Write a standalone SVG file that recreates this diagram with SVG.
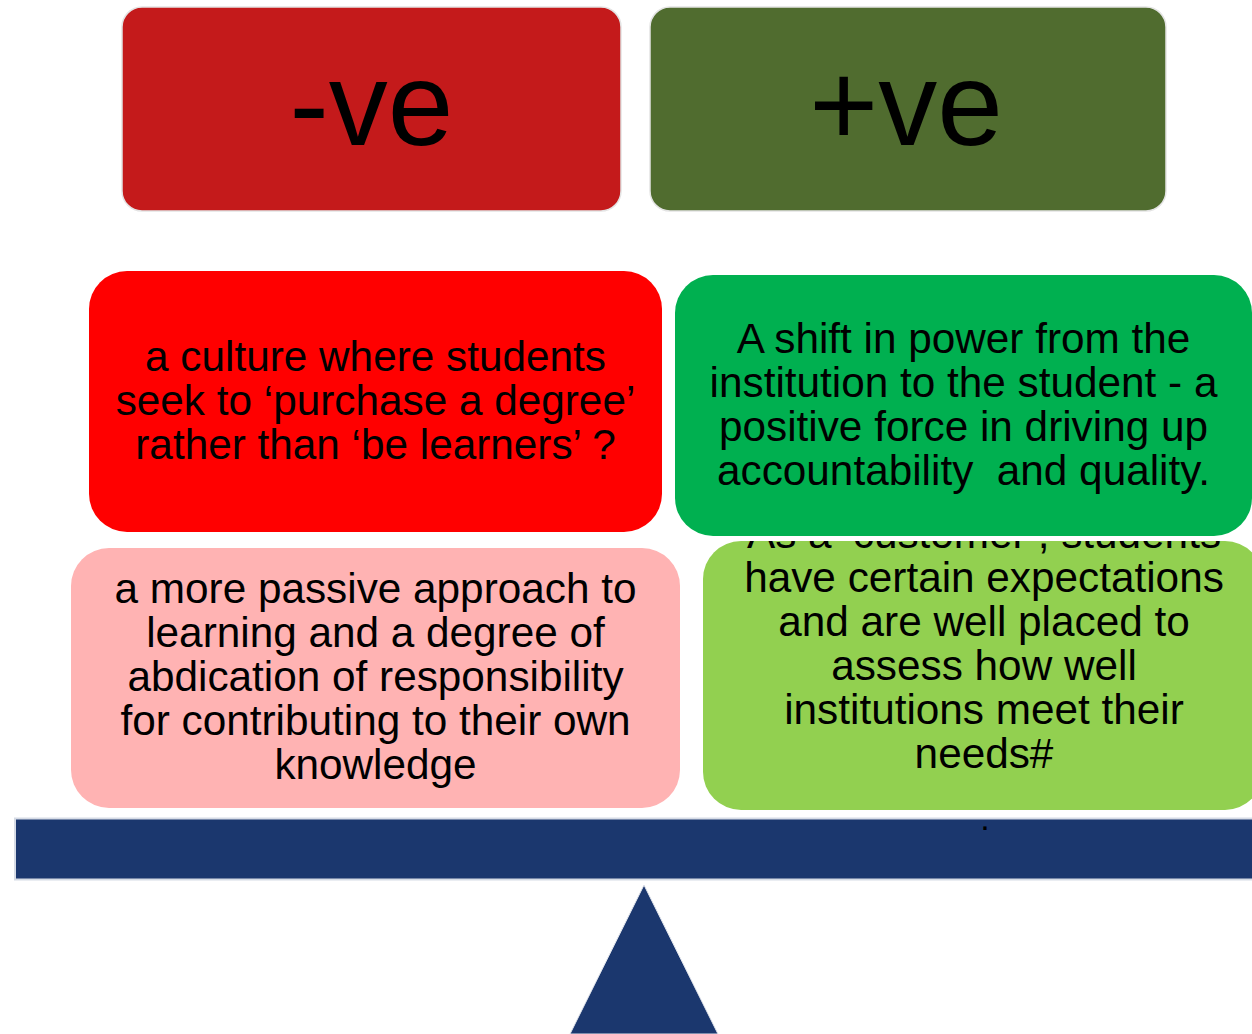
<svg xmlns="http://www.w3.org/2000/svg" width="1252" height="1034" viewBox="0 0 1252 1034">
  <style>
    text { font-family: "Liberation Sans", Arial, sans-serif; fill: #000; text-anchor: middle; }
    .head { font-size: 118px; }
    .body { font-size: 42.3px; }
    .hdbox { stroke: #e4e4e4; stroke-width: 1.5; }
  </style>
  <defs>
    <clipPath id="clipCustomer">
      <rect x="703" y="541" width="560" height="270"/>
    </clipPath>
  </defs>

  <rect width="1252" height="1034" fill="#ffffff"/>

  <!-- heading: negatives -->
  <g id="neg-heading">
    <rect class="hdbox" x="122" y="7" width="499" height="204" rx="20" fill="#C41A1B"/>
    <text class="head" x="371.5" y="145">-ve</text>
  </g>

  <!-- heading: positives -->
  <g id="pos-heading">
    <rect class="hdbox" x="650" y="7" width="516" height="204" rx="20" fill="#506C2F"/>
    <text class="head" x="906" y="145">+ve</text>
  </g>

  <g id="neg-purchase">
    <rect x="89" y="271" width="573" height="261" rx="38" fill="#FF0000"/>
    <text class="body" x="375.5" y="371">a culture where students</text>
    <text class="body" x="375.5" y="415">seek to ‘purchase a degree’</text>
    <text class="body" x="375.5" y="459">rather than ‘be learners’ ?</text>
  </g>

  <g id="pos-power">
    <rect x="675" y="275" width="577" height="261" rx="38" fill="#00B050"/>
    <text class="body" x="963.5" y="353">A shift in power from the</text>
    <text class="body" x="963.5" y="397">institution to the student - a</text>
    <text class="body" x="963.5" y="441">positive force in driving up</text>
    <text class="body" x="963.5" y="485" xml:space="preserve">accountability  and quality.</text>
  </g>

  <g id="neg-passive">
    <rect x="71" y="548" width="609" height="260" rx="38" fill="#FFB3B3"/>
    <text class="body" x="375.5" y="603">a more passive approach to</text>
    <text class="body" x="375.5" y="647">learning and a degree of</text>
    <text class="body" x="375.5" y="691">abdication of responsibility</text>
    <text class="body" x="375.5" y="735">for contributing to their own</text>
    <text class="body" x="375.5" y="779">knowledge</text>
  </g>

  <g id="pos-customer">
    <rect x="703" y="541" width="560" height="269" rx="38" fill="#92D050"/>
    <g clip-path="url(#clipCustomer)">
      <text class="body" x="984" y="548">As a ‘customer’, students</text>
      <text class="body" x="984" y="592">have certain expectations</text>
      <text class="body" x="984" y="636">and are well placed to</text>
      <text class="body" x="984" y="680">assess how well</text>
      <text class="body" x="984" y="724">institutions meet their</text>
      <text class="body" x="984" y="768">needs#</text>
    </g>
  </g>

  <!-- balance beam and fulcrum -->
  <g id="beam">
    <rect x="15" y="818.5" width="1250" height="61" fill="#1B376E" stroke="#D6DBE5" stroke-width="2"/>
    <text x="985" y="829.5" style="font-size:34px">.</text>
  </g>
  <g id="fulcrum">
    <polygon points="644,885 570,1034 718,1034" fill="#1B376E" stroke="#E2E5EC" stroke-width="1"/>
  </g>

  <g id="connectors"/>
</svg>
